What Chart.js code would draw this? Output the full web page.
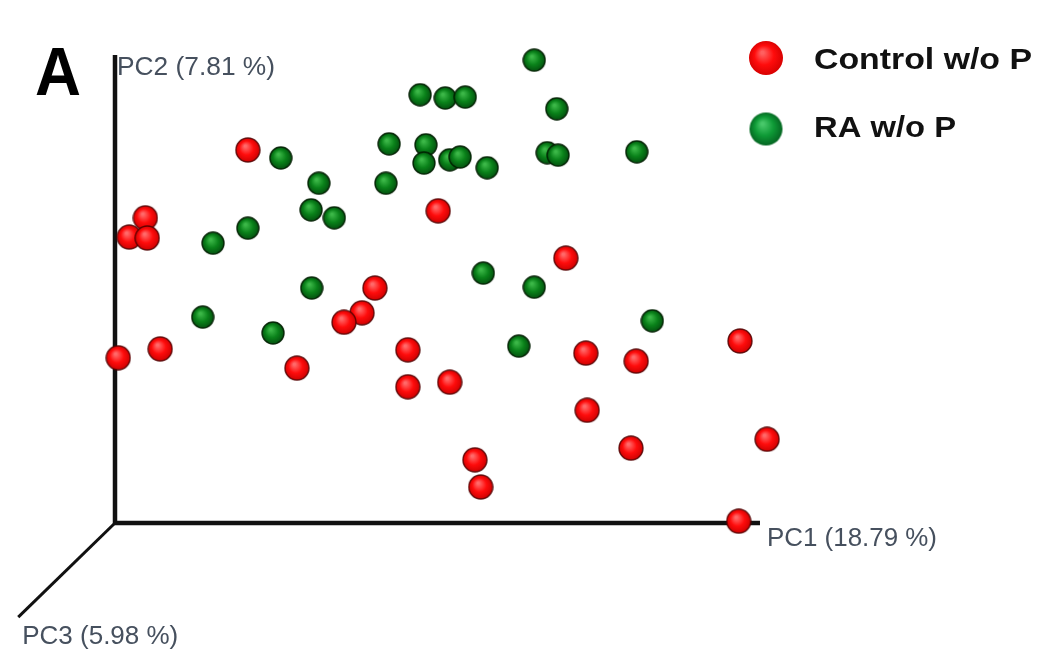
<!DOCTYPE html>
<html>
<head>
<meta charset="utf-8">
<script src="https://cdn.jsdelivr.net/npm/chart.js@4/dist/chart.umd.min.js"></script>
<style>
  html, body { margin: 0; padding: 0; background: #ffffff; }
  #wrap { width: 1041px; height: 654px; }
</style>
</head>
<body>
<div id="wrap"><canvas id="c" width="1041" height="654"></canvas></div>
<script>
// ---- Data (projected PCoA coordinates) ----
const seriesNames = ["Control w/o P", "RA w/o P"];
const axisLabels = ["PC1 (18.79 %)", "PC2 (7.81 %)", "PC3 (5.98 %)"];
const panelLabel = "A";

const controlX = [0.206, 0.047, 0.022, 0.050, 0.005, 0.070, 0.501, 0.699, 0.403, 0.383, 0.355, 0.454,
                  0.282, 0.454, 0.519, 0.730, 0.808, 0.969, 0.732, 0.800, 1.011, 0.558, 0.567, 0.967];
const controlY = [0.797, 0.652, 0.611, 0.609, 0.353, 0.372, 0.667, 0.566, 0.502, 0.449, 0.429, 0.370,
                  0.331, 0.291, 0.301, 0.363, 0.346, 0.389, 0.241, 0.160, 0.179, 0.135, 0.077, 0.004];

const raX = [0.650, 0.473, 0.512, 0.543, 0.685, 0.425, 0.482, 0.479, 0.519, 0.535, 0.577, 0.670, 0.687, 0.809,
             0.257, 0.316, 0.420, 0.304, 0.340, 0.152, 0.206, 0.571, 0.650, 0.305, 0.136, 0.245, 0.626, 0.833];
const raY = [0.989, 0.915, 0.908, 0.910, 0.885, 0.810, 0.808, 0.769, 0.776, 0.782, 0.759, 0.791, 0.786, 0.793,
             0.780, 0.726, 0.726, 0.669, 0.652, 0.598, 0.630, 0.534, 0.504, 0.502, 0.440, 0.406, 0.378, 0.432];

// axis ends in the projected space (origin at 0,0)
const pc1End = [1.0, 0.0];
const pc2End = [0.0, 1.0];
const pc3End = [-0.150, -0.201];

// ---- Sphere marker images ----
function sphere(d, light, mid, dark, outline) {
  const cv = document.createElement('canvas');
  cv.width = d; cv.height = d;
  const g = cv.getContext('2d');
  const r = d / 2;
  const grad = g.createRadialGradient(r * 0.8, r * 0.7, r * 0.08, r, r, r);
  grad.addColorStop(0, light);
  grad.addColorStop(0.5, mid);
  grad.addColorStop(1, dark);
  g.beginPath();
  g.arc(r, r, r - 1, 0, Math.PI * 2);
  g.fillStyle = grad;
  g.fill();
  if (outline) {
    g.lineWidth = 1.4;
    g.strokeStyle = outline;
    g.stroke();
  }
  return cv;
}
const redBall = sphere(26, '#ff6a6a', '#ff0c0c', '#c80000', 'rgba(80,0,0,0.85)');
const greenBall = sphere(24, '#3cb848', '#0a821a', '#034a0e', 'rgba(0,30,0,0.9)');
const redLegend = sphere(36, '#ff6060', '#ff0c0c', '#d40000', null);
const greenLegend = sphere(35, '#48c86a', '#0e9a36', '#046020', null);

function toPts(xs, ys) { return xs.map((x, i) => ({ x: x, y: ys[i] })); }

function stretchText(ctx, text, x, y, font, color, width) {
  ctx.save();
  ctx.font = font;
  ctx.fillStyle = color;
  ctx.textBaseline = 'middle';
  ctx.textAlign = 'left';
  const w = ctx.measureText(text).width;
  ctx.translate(x, y);
  ctx.scale(width / w, 1);
  ctx.fillText(text, 0, 0);
  ctx.restore();
}

const axesPlugin = {
  id: 'pcoaAxes',
  beforeDatasetsDraw(chart) {
    const ctx = chart.ctx, xs = chart.scales.x, ys = chart.scales.y;
    const ox = xs.getPixelForValue(0), oy = ys.getPixelForValue(0);
    ctx.save();
    ctx.strokeStyle = '#111111';
    ctx.lineCap = 'butt';
    ctx.lineWidth = 4.5;
    ctx.beginPath();
    ctx.moveTo(ox, ys.getPixelForValue(pc2End[1]));
    ctx.lineTo(ox, oy);
    ctx.lineTo(xs.getPixelForValue(pc1End[0]), oy);
    ctx.stroke();
    ctx.lineWidth = 3;
    ctx.beginPath();
    ctx.moveTo(ox, oy);
    ctx.lineTo(xs.getPixelForValue(pc3End[0]), ys.getPixelForValue(pc3End[1]));
    ctx.stroke();
    ctx.restore();
  },
  afterDraw(chart) {
    const ctx = chart.ctx, xs = chart.scales.x, ys = chart.scales.y;
    const labelColor = '#46505e';
    const f = '25px "Liberation Sans", Arial, sans-serif';
    // PC2 label (top of vertical axis)
    stretchText(ctx, axisLabels[1], xs.getPixelForValue(pc2End[0]) + 2, ys.getPixelForValue(pc2End[1]) + 13, f, labelColor, 158);
    // PC1 label (end of horizontal axis)
    stretchText(ctx, axisLabels[0], xs.getPixelForValue(pc1End[0]) + 7, ys.getPixelForValue(pc1End[1]) + 16, f, labelColor, 170);
    // PC3 label (end of diagonal axis)
    stretchText(ctx, axisLabels[2], xs.getPixelForValue(pc3End[0]) + 4, ys.getPixelForValue(pc3End[1]) + 20, f, labelColor, 156);
    // Panel label
    stretchText(ctx, panelLabel, 35, 76, 'bold 68px "Liberation Sans", Arial, sans-serif', '#000000', 46);
    // Legend
    const imgs = [redLegend, greenLegend];
    const widths = [218, 142];
    const markerY = [58, 129];
    const textY = [61, 129];
    const lx = 766;
    chart.data.datasets.forEach((ds, i) => {
      const im = imgs[i];
      ctx.drawImage(im, lx - im.width / 2, markerY[i] - im.height / 2);
      stretchText(ctx, ds.label, 814, textY[i], 'bold 30px "Liberation Sans", Arial, sans-serif', '#111111', widths[i]);
    });
  }
};

new Chart(document.getElementById('c'), {
  type: 'scatter',
  data: {
    datasets: [
      { label: seriesNames[0], data: toPts(controlX, controlY), pointStyle: redBall, pointRadius: 13, order: 2 },
      { label: seriesNames[1], data: toPts(raX, raY), pointStyle: greenBall, pointRadius: 12, order: 1 }
    ]
  },
  options: {
    responsive: false,
    animation: false,
    layout: { padding: 0, autoPadding: false },
    plugins: { legend: { display: false }, tooltip: { enabled: false }, title: { display: false } },
    scales: {
      x: { type: 'linear', min: -0.1783, max: 1.4357, display: false },
      y: { type: 'linear', min: -0.2799, max: 1.1175, display: false }
    }
  },
  plugins: [axesPlugin]
});
</script>
</body>
</html>
